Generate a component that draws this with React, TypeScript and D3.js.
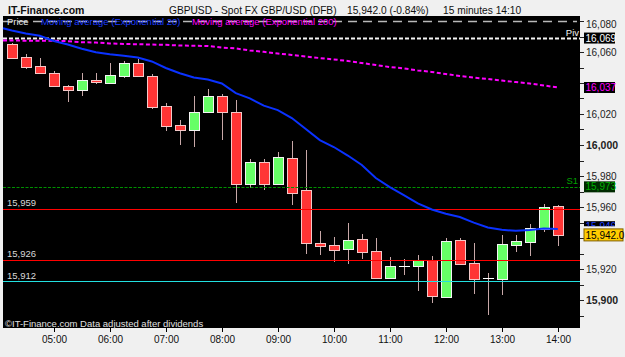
import React from "react";
import * as d3 from "d3";

const times = [
  "04:15","04:30","04:45","05:00","05:15","05:30","05:45","06:00","06:15","06:30",
  "06:45","07:00","07:15","07:30","07:45","08:00","08:15","08:30","08:45","09:00",
  "09:15","09:30","09:45","10:00","10:15","10:30","10:45","11:00","11:15","11:30",
  "11:45","12:00","12:15","12:30","12:45","13:00","13:15","13:30","13:45","14:00",
];
const open = [
  16065.0,16056.5,16050.8,16046.5,16038.3,16035.3,16041.7,16040.2,16044.7,16052.7,
  16044.3,16025.0,16012.7,16009.5,16021.5,16031.8,16021.5,15975.0,15988.8,15975.0,
  15991.6,15971.0,15937.0,15935.3,15933.1,15939.4,15931.6,15914.4,15921.9,15922.1,
  15925.8,15901.9,15938.7,15923.9,15914.2,15913.4,15935.5,15937.6,15945.8,15960.6,
];
const high = [
  16066.0,16058.5,16055.9,16047.9,16038.5,16046.3,16046.6,16052.7,16054.4,16055.5,
  16045.8,16027.3,16016.1,16031.3,16035.9,16032.9,16029.0,15991.0,15990.8,15995.5,
  16002.6,15996.8,15944.5,15940.5,15949.9,15942.6,15940.0,15927.7,15926.5,15929.0,
  15928.4,15939.8,15939.8,15937.0,15917.4,15941.9,15941.9,15949.0,15961.9,15961.3,
];
const low = [
  16056.3,16049.0,16045.6,16037.4,16027.5,16031.6,16039.2,16039.8,16043.0,16043.7,
  16023.0,16009.0,16000.0,15998.9,16021.1,16003.5,15962.8,15972.1,15971.0,15974.8,
  15961.3,15929.7,15929.0,15924.5,15923.2,15926.5,15913.7,15914.0,15916.1,15906.0,
  15898.3,15901.1,15923.4,15903.7,15890.3,15903.0,15931.2,15928.4,15944.1,15935.0,
];
const close = [
  16056.3,16050.5,16046.3,16037.9,16035.3,16041.7,16040.5,16045.0,16052.7,16044.3,
  16024.7,16012.1,16009.5,16021.3,16031.8,16021.5,15974.6,15989.2,15975.0,15992.3,
  15969.2,15937.0,15934.8,15932.5,15938.7,15931.2,15914.4,15921.9,15921.9,15925.8,
  15902.6,15938.1,15923.4,15913.4,15914.2,15935.9,15938.1,15946.3,15960.0,15942.0,
];
const ema20Lead = 16075.3;
const ema20 = [
  16073.9,16071.9,16070.5,16067.1,16064.8,16062.1,16059.9,16058.5,16057.6,16056.5,
  16053.9,16049.7,16046.3,16043.6,16042.2,16039.7,16033.5,16030.1,16025.4,16022.5,
  16017.4,16010.3,16003.2,15998.7,15993.2,15987.1,15978.7,15972.8,15967.6,15962.3,
  15958.4,15955.7,15953.5,15949.9,15946.8,15945.3,15944.6,15945.2,15946.2,15945.8,
];
const ema200Lead = 16067.4;
const ema200 = [
  16067.4,16067.3,16067.3,16067.2,16067.0,16066.3,16066.1,16065.5,16065.2,16065.0,
  16064.8,16064.6,16064.2,16064.0,16063.9,16062.9,16062.3,16061.0,16060.1,16059.0,
  16058.1,16057.1,16056.1,16055.2,16054.2,16052.9,16051.6,16050.3,16049.4,16048.1,
  16047.1,16045.8,16044.5,16043.5,16042.6,16041.6,16040.6,16039.7,16038.4,16037.1,
];
const axisTimes = ["05:00","06:00","07:00","08:00","09:00","10:00","11:00","12:00","13:00","14:00"];
const yMinorTicks = [15890,15900,15910,15920,15930,15940,15950,15960,15970,15980,15990,16000,16010,16020,16030,16040,16050,16060,16070,16080];
const yLabels = [15900,15920,15960,15980,16000,16020,16060,16080];
const boldLabels = [15900,16000];
const redLevels = [15959, 15926];
const cyanLevel = 15912;
const pivLevel = 16069;
const s1Level = 15973;
const r1Level = 16080;
const lastPrice = 15942.0;

const FONT = "Arial, 'Liberation Sans', sans-serif";

export default function App() {
  const W = 625, H = 357;
  const L = 3, R = 580, T = 16, B = 328;
  const x = d3.scaleLinear().domain([0, 39]).range([11.8, 557.8]);
  const y = d3.scaleLinear().domain([15900, 16000]).range([300, 145]);
  const bw = 11;
  const fmt = d3.format(",.0f");
  const fmt1 = d3.format(",.1f");
  const leadIdx = x.invert(L);

  const line = d3.line<[number, number]>().x((d) => d[0]).y((d) => d[1]);
  const ema20Pts: [number, number][] = [[x(leadIdx), y(ema20Lead)], ...ema20.map((v, i) => [x(i), y(v)] as [number, number])];
  const ema200Pts: [number, number][] = [[x(leadIdx), y(ema200Lead)], ...ema200.map((v, i) => [x(i), y(v)] as [number, number])];

  const hLine = (v: number, stroke: string, dash?: string, w = 1, x2 = R) => (
    <line x1={L} x2={x2} y1={Math.round(y(v)) + 0.5} y2={Math.round(y(v)) + 0.5} stroke={stroke} strokeWidth={w} strokeDasharray={dash} />
  );

  const box = (v: number, text: string, bg: string, fg: string, wdt = 31, stroke?: string, h = 11) => {
    const cy = y(v);
    return (
      <g>
        <rect x={584} y={cy - h / 2} width={wdt} height={h} fill={bg} stroke={stroke} strokeWidth={stroke ? 1 : 0} />
        <text x={585.5} y={cy + 3.6} fontSize={10} fill={fg}>{text}</text>
      </g>
    );
  };

  const emaLast = ema20[ema20.length - 1];

  return (
    <svg width={W} height={H} style={{ position: "absolute", left: 0, top: 0, background: "#f0f0f0" }} fontFamily={FONT}>
      <defs>
        <clipPath id="blueClip">
          <rect x={584} y={y(emaLast + 1.5) - 6} width={31} height={5.5} />
        </clipPath>
      </defs>
      <rect x={0} y={0} width={W} height={H} fill="#f0f0f0" />
      {/* title */}
      <text x={8} y={14} fontSize={10.5} fontWeight="bold" fill="#111">IT-Finance.com</text>
      <text x={169} y={14} fontSize={10.2} fill="#111">GBPUSD - Spot FX GBP/USD (DFB)</text>
      <text x={347} y={14} fontSize={10.2} fill="#111">{fmt1(lastPrice)} (-0.84%)</text>
      <text x={443} y={14} fontSize={10.2} fill="#111">15 minutes  14:10</text>

      {/* plot area */}
      <rect x={L} y={T} width={R - L} height={B - T} fill="#000" />

      {/* top dashed line + legend */}
      {hLine(r1Level, "#b8b8b8", "9,6", 1.5, 577)}
      <text x={7} y={25} fontSize={9.5} fill="#e8e8e8">Price</text>
      <text x={41} y={25} fontSize={9.5} fill="#1a3cff">Moving average (Exponential 20)</text>
      <text x={192} y={25} fontSize={9.5} fill="#ff00ff">Moving average (Exponential 200)</text>

      {/* candles */}
      <g shapeRendering="crispEdges">
        {times.map((t, i) => {
          const cx = Math.round(x(i));
          const o = open[i], c = close[i];
          const up = c > o;
          const doji = Math.abs(c - o) < 0.3;
          const top = Math.round(y(Math.max(o, c)));
          const bot = Math.round(y(Math.min(o, c)));
          return (
            <g key={t}>
              <line x1={cx + 0.5} x2={cx + 0.5} y1={y(high[i])} y2={y(low[i])} stroke="#c8a8a8" strokeWidth={1} />
              {doji ? (
                <line x1={cx - 5} x2={cx + 6} y1={top + 0.5} y2={top + 0.5} stroke="#ffffff" strokeWidth={1.5} />
              ) : (
                <rect
                  x={cx - 5 + 0.5}
                  y={top + 0.5}
                  width={bw - 1}
                  height={Math.max(1, bot - top)}
                  fill={up ? "#66ff66" : "#ff3535"}
                  stroke={up ? "#f4f4f4" : "#f4c8c8"}
                  strokeWidth={1}
                />
              )}
            </g>
          );
        })}
      </g>

      {/* horizontal levels */}
      <g shapeRendering="crispEdges">
        {redLevels.map((v) => (
          <g key={v}>{hLine(v, "#ff0000", undefined, 1.2)}</g>
        ))}
        {hLine(cyanLevel, "#22e0e0", undefined, 1.2)}
      </g>
      {redLevels.map((v) => (
        <text key={v} x={7} y={y(v) - 2.5} fontSize={9.5} fill="#d8d8d8">{fmt(v)}</text>
      ))}
      <text x={7} y={y(cyanLevel) - 2.5} fontSize={9.5} fill="#d8d8d8">{fmt(cyanLevel)}</text>
      {hLine(pivLevel, "#f4f4f4", "4,2", 2)}
      <text x={579} y={y(pivLevel) - 2} fontSize={9.5} fill="#f0f0f0" textAnchor="end">Piv</text>
      {hLine(s1Level, "#009000", "3,1.5", 1)}
      <text x={578} y={y(s1Level) - 2.5} fontSize={9.5} fill="#00a000" textAnchor="end">S1</text>

      {/* EMAs */}
      <path d={line(ema200Pts) || ""} fill="none" stroke="#ff00ff" strokeWidth={2} strokeDasharray="4,2.5" />
      <path d={line(ema20Pts) || ""} fill="none" stroke="#0a32ff" strokeWidth={2} />

      {/* copyright */}
      <text x={5} y={326.5} fontSize={9.5} fill="#e0e0e0">©IT-Finance.com  Data adjusted after dividends</text>

      {/* x axis */}
      {axisTimes.map((t) => {
        const i = times.indexOf(t);
        const px = Math.round(x(i)) + 0.5;
        return (
          <g key={t}>
            <line x1={px} x2={px} y1={B} y2={B + 4} stroke="#000" />
            <text x={px} y={342.5} fontSize={10} fill="#111" textAnchor="middle">{t}</text>
          </g>
        );
      })}

      {/* y axis */}
      {yMinorTicks.map((v) => (
        <line key={v} x1={R} x2={R + 4} y1={Math.round(y(v)) + 0.5} y2={Math.round(y(v)) + 0.5} stroke="#222" />
      ))}
      {yLabels.map((v) => {
        const bold = boldLabels.includes(v);
        return (
          <text key={v} x={586} y={Math.max(y(v), 24) + 3.6} fontSize={bold ? 10.5 : 10} fontWeight={bold ? "bold" : "normal"} fill="#222">
            {fmt(v)}
          </text>
        );
      })}

      {/* right value boxes */}
      {box(pivLevel, fmt(pivLevel), "#000", "#ffffff")}
      {box(ema200[ema200.length - 1], fmt(ema200[ema200.length - 1]), "#000", "#ff00ff")}
      {box(s1Level, fmt(s1Level), "#002a00", "#00b000")}
      <g clipPath="url(#blueClip)">{box(emaLast + 1.5, fmt(emaLast), "#000", "#2040ff")}</g>
      {box(lastPrice, fmt1(lastPrice), "#ffcc00", "#000", 39, "#806000", 12)}
    </svg>
  );
}
